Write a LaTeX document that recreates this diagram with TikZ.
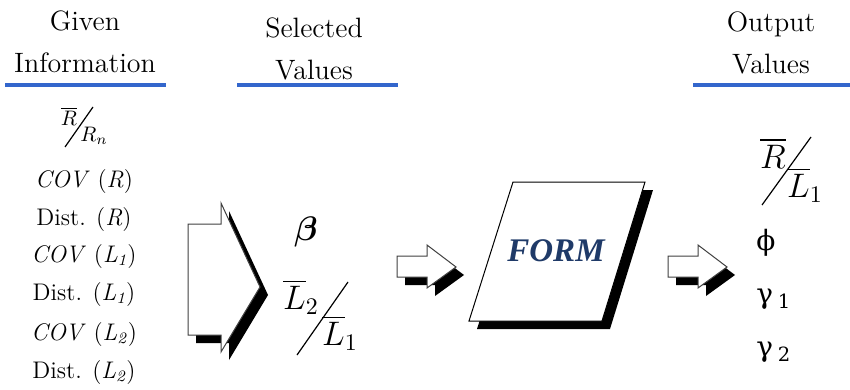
\RequirePackage{fix-cm}
\documentclass[tikz,border=0pt]{standalone}
\usepackage{amsmath}
\usepackage{fontspec}
\newfontfamily\grkfont{DejaVu Serif}
\newfontfamily\formfont{Liberation Serif}
\usetikzlibrary{shadows, positioning}
\definecolor{rulebl}{HTML}{3366CC}
\definecolor{formbl}{HTML}{1F3A68}
\tikzset{
  % titoli delle colonne
  head/.style={align=center, inner sep=0pt, anchor=base, font=\fontsize{14}{21}\selectfont},
  % riga blu sotto i titoli
  headrule/.style={line width=2pt, rulebl},
  % voci della colonna di sinistra
  item/.style={inner sep=0pt, anchor=base, font=\fontsize{12}{14}\selectfont},
  % frazioni oblique
  frc/.style={inner sep=0pt, font=\fontsize{17}{20}\selectfont},
  frcsmall/.style={inner sep=0pt, font=\fontsize{10.5}{12}\selectfont},
  slash/.style={line width=0.6pt},
  % simboli in uscita
  grk/.style={inner sep=0pt, anchor=west, font=\fontsize{14}{16}\grkfont},
  % frecce a blocco con ombra
  blockarr/.style={draw=black!75, line width=0.5pt, fill=white,
    drop shadow={shadow xshift=4pt, shadow yshift=-4pt, fill=black, opacity=1}},
  formbox/.style={draw=black, line width=0.5pt, fill=white,
    drop shadow={shadow xshift=4pt, shadow yshift=-4pt, fill=black, opacity=1}},
  formtxt/.style={inner sep=0pt, text=formbl, font=\fontsize{16.5}{18}\formfont\bfseries\itshape},
}

\begin{document}
\begin{tikzpicture}[x=0.5pt, y=-0.5pt]
  \useasboundingbox (0,0) rectangle (850,390);

  % titoli (base = ultima riga)
  \node[head] (given) at (85,73) {Given\\Information};
  \node[head] (selected) at (314,80) {Selected\\Values};
  \node[head] (output) at (771,74) {Output\\Values};
  \draw[headrule] (5,85) -- (166,85);
  \draw[headrule] (237,85) -- (398,85);
  \draw[headrule] (693,85) -- (850,85);

  % dati in ingresso
  \node[frcsmall] (gnum) at (69,116) {$\overline{R}$};
  \node[frcsmall] (gden) at (94,136) {$R_n$};
  \draw[slash] (65,147) -- (93,107);
  \foreach \y/\t [count=\i] in {187/{\textit{COV} (\textit{R})}, 225/{Dist. (\textit{R})},
      262/{\textit{COV} (\textit{L}\textsubscript{\textit{1}})}, 300/{Dist. (\textit{L}\textsubscript{\textit{1}})},
      340/{\textit{COV} (\textit{L}\textsubscript{\textit{2}})}, 378/{Dist. (\textit{L}\textsubscript{\textit{2}})}}
    \node[item] (in\i) at (84,\y) {\t};

  % freccia grande
  \draw[blockarr] (188,224) -- (221,224) -- (221,203) -- (260,287) -- (221,352)
    -- (221,335) -- (188,335) -- cycle;

  % valori scelti
  \node[frc] (beta) at (306,232) {$\boldsymbol{\beta}$};
  \node[frc] (snum) at (301,297) {$\overline{L}_2$};
  \node[frc] (sden) at (340,333) {$\overline{L}_1$};
  \draw[slash] (297,355) -- (348,282);

  % frecce piccole
  \foreach \x in {397,668}
    \draw[blockarr] (\x,256) -- ++(30,0) -- ++(0,-11) -- ++(29,22) -- ++(-29,21)
      -- ++(0,-11) -- ++(-30,0) -- cycle;

  % blocco FORM
  \draw[formbox] (513,182) -- (645,182) -- (602,321) -- (469,321) -- cycle;
  \node[formtxt] (form) at (556,251) {FORM};

  % valori in uscita
  \node[frc] (onum) at (773,153) {$\overline{R}$};
  \node[frc] (oden) at (805,185) {$\overline{L}_1$};
  \draw[slash] (762,205) -- (811,137);
  \node[grk] (phi) at (756,243) {ϕ};
  \node[grk] (gam1) at (756,299) {γ\,\textsubscript{1}};
  \node[grk] (gam2) at (756,352) {γ\,\textsubscript{2}};
\end{tikzpicture}
\end{document}
